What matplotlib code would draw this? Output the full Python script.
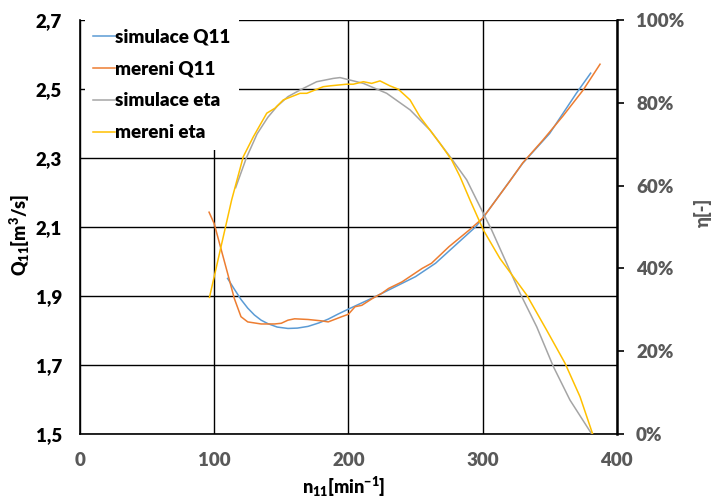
import matplotlib
matplotlib.use("Agg")
import matplotlib.pyplot as plt
from matplotlib.ticker import FixedLocator, FuncFormatter

WEIGHT = "heavy"
plt.rcParams['font.family'] = ['Lato', 'DejaVu Sans']
plt.rcParams['font.weight'] = WEIGHT
plt.rcParams['mathtext.fontset'] = 'custom'
plt.rcParams['mathtext.rm'] = 'Lato:heavy'
plt.rcParams['mathtext.bf'] = 'Lato:heavy'
plt.rcParams['mathtext.it'] = 'Lato:heavy'

# --- data -------------------------------------------------------------
sim_q_n = [110, 115, 120, 125, 130, 135, 140, 147, 155, 162, 170, 178, 185,
           192, 200, 220, 250, 265, 280, 295, 300, 330, 350, 370, 380.6]
sim_q = [1.951, 1.920, 1.890, 1.865, 1.845, 1.830, 1.820, 1.810, 1.806, 1.807,
         1.812, 1.822, 1.833, 1.847, 1.862, 1.898, 1.956, 1.995, 2.048, 2.101,
         2.125, 2.285, 2.371, 2.488, 2.546]

mer_q_n = [96.2, 100, 105, 110, 115, 120, 125, 135, 145, 150, 155, 160, 170,
           180, 185, 195, 200, 205, 210, 218, 225, 230, 240, 255, 262, 275,
           290, 300, 320, 330, 345, 360, 375, 387.6]
mer_q = [2.143, 2.110, 2.038, 1.966, 1.893, 1.840, 1.825, 1.819, 1.819, 1.821,
         1.830, 1.834, 1.832, 1.828, 1.825, 1.840, 1.847, 1.869, 1.873, 1.893,
         1.908, 1.922, 1.941, 1.980, 1.995, 2.043, 2.091, 2.125, 2.231, 2.286,
         2.352, 2.422, 2.497, 2.572]

sim_eta_n = [116, 124, 132, 140, 147, 155, 164, 176.4, 188.8, 193.8,
             211.2, 228.6, 246, 260.9, 275.8, 288.2, 295.7, 306.8, 328, 340.4,
             352.8, 365.2, 381.4]
sim_eta = [0.595, 0.667, 0.725, 0.765, 0.792, 0.815, 0.831, 0.851,
           0.859, 0.861, 0.847, 0.823, 0.783, 0.734, 0.670, 0.614, 0.565,
           0.493, 0.340, 0.259, 0.163, 0.082, 0.0]

mer_eta_n = [96.5, 113, 121.7, 129.2, 139.2, 145.3, 151.5, 164, 169, 181.3,
             186.3, 198.8, 203.7, 211.2, 217.4, 223.6, 231, 237.2, 246, 253.4,
             260.9, 268.3, 277, 283.2, 290.7, 300.6, 313, 332.9, 347.8, 361.5,
             372.7, 382.1]
mer_eta = [0.330, 0.565, 0.670, 0.718, 0.775, 0.787, 0.807, 0.823, 0.823,
           0.839, 0.841, 0.845, 0.845, 0.851, 0.847, 0.853, 0.841, 0.833,
           0.807, 0.766, 0.734, 0.702, 0.662, 0.622, 0.565, 0.493, 0.424,
           0.336, 0.251, 0.171, 0.090, 0.0]

x_ticks = [0, 100, 200, 300, 400]
q_ticks = [1.5, 1.7, 1.9, 2.1, 2.3, 2.5, 2.7]
eta_ticks = [0, 0.2, 0.4, 0.6, 0.8, 1.0]

series_labels = ["simulace Q11", "mereni Q11", "simulace eta", "mereni eta"]
colors = ["#5B9BD5", "#ED7D31", "#A5A5A5", "#FFC000"]

# --- figure -----------------------------------------------------------
fig = plt.figure(figsize=(7.13, 5.01), dpi=100)
ax = fig.add_axes([0.1122, 0.1337, 0.7527, 0.8263])
ax2 = ax.twinx()

lw = 1.1
l1, = ax.plot(sim_q_n, sim_q, color=colors[0], lw=lw, zorder=3)
l2, = ax.plot(mer_q_n, mer_q, color=colors[1], lw=lw, zorder=3)
l3, = ax2.plot(sim_eta_n, sim_eta, color=colors[2], lw=lw)
l4, = ax2.plot(mer_eta_n, mer_eta, color=colors[3], lw=lw)

ax.set_xlim(0, 400)
ax.set_ylim(1.5, 2.7)
ax2.set_ylim(0, 1.0)

ax.xaxis.set_major_locator(FixedLocator(x_ticks))
ax.yaxis.set_major_locator(FixedLocator(q_ticks))
ax2.yaxis.set_major_locator(FixedLocator(eta_ticks))
ax.yaxis.set_major_formatter(FuncFormatter(lambda v, p: f"{v:.1f}".replace(".", ",")))
ax2.yaxis.set_major_formatter(FuncFormatter(lambda v, p: f"{v*100:.0f}%"))

ax.grid(True, color="black", lw=1.0)
ax.set_axisbelow(True)

for s in ["top", "right"]:
    ax.spines[s].set_visible(False)
ax.spines["left"].set_linewidth(1.2)
ax.spines["bottom"].set_linewidth(1.2)
for s in ["top", "left", "bottom"]:
    ax2.spines[s].set_visible(False)
ax2.spines["right"].set_linewidth(1.8)

ax.tick_params(axis="y", length=0, pad=13, labelsize=13.5, labelcolor="black")
ax.tick_params(axis="x", length=0, pad=13, labelsize=13.5, labelcolor="#595959")
ax2.tick_params(axis="y", length=5, width=1.2, pad=9, labelsize=13.5,
                labelcolor="#595959")
for lab in ax.get_xticklabels() + ax.get_yticklabels() + ax2.get_yticklabels():
    lab.set_fontweight(WEIGHT)

fig.text(20 / 713, 1 - 235 / 501, r"$\mathbf{Q_{11}[m^3/s]}$", rotation=90,
         ha="center", va="center", fontsize=13, color="black")
fig.text(344 / 713, 1 - 487 / 501, r"$\mathbf{n_{11}[min^{-1}]}$",
         ha="center", va="center", fontsize=13, color="black")
fig.text(703 / 713, 1 - 212 / 501, "η[-]", rotation=90,
         ha="center", va="center", fontsize=13, color="#595959",
         fontweight=WEIGHT)

leg = ax2.legend([l1, l2, l3, l4], series_labels, loc="upper left",
                 bbox_to_anchor=(0.009, 1.0), fontsize=13.5, frameon=True,
                 fancybox=False, framealpha=1, facecolor="white",
                 edgecolor="none", handlelength=1.15, handletextpad=0.0,
                 labelspacing=0.8, borderpad=0.45, borderaxespad=0.0)
for t in leg.get_texts():
    t.set_fontweight(WEIGHT)

fig.savefig("out.png", dpi=100)
